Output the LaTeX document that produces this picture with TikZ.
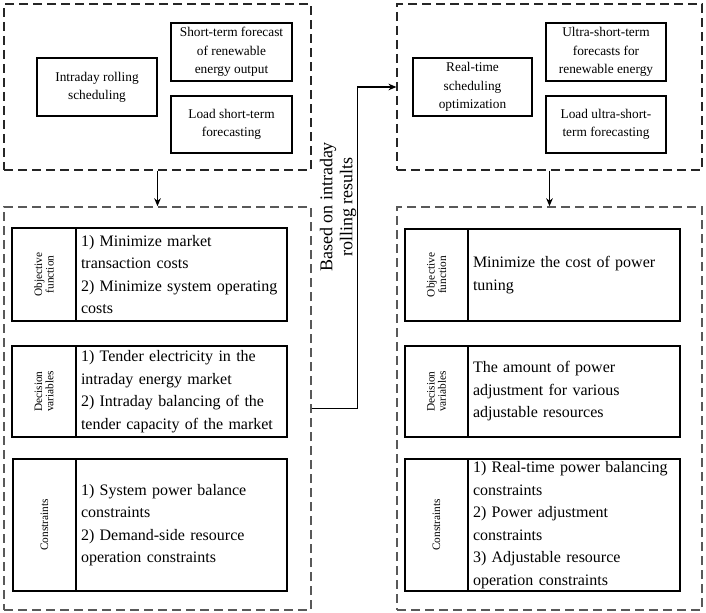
\documentclass[tikz,border=0pt]{standalone}
\usepackage{fontspec}
\setmainfont{Liberation Serif}
\usetikzlibrary{fit,arrows.meta}
\begin{document}
\begin{tikzpicture}[x=0.75pt,y=-0.75pt,
 dbox/.style={draw=black!85, line width=0.9pt, dash pattern=on 6.75pt off 3.75pt, inner sep=0pt},
 dboxg/.style={draw=black!65, line width=1.2pt, dash pattern=on 6.75pt off 3.75pt, inner sep=0pt},
 cell/.style={draw, line width=0.8pt, inner sep=0pt},
 stxt/.style={inner sep=0pt, align=center, font=\fontsize{10}{13.7}\selectfont},
 labtxt/.style={inner sep=0pt, font=\fontsize{8.5}{8.5}\selectfont, align=center},
 txtL/.style={inner sep=0pt, font=\fontsize{12}{16.9}\selectfont, align=left, text width=150.75pt},
 txtR/.style={inner sep=0pt, font=\fontsize{12}{16.9}\selectfont, align=left, text width=151.5pt},
 arr/.style={line width=0.8pt, -{Stealth[length=6pt,width=5pt]}}]
\useasboundingbox (0,0) rectangle (706,613);

% top left
\node[dbox, fit={(4,4) (311,170)}] (TL) {};
\node[cell, fit={(37,58) (157,116)}] (irs) {};
\node[stxt] (irst) at (irs.center) {Intraday rolling\\scheduling};
\node[cell, fit={(171,23) (292,81)}] (stf) {};
\node[stxt] (stft) at (stf.center) {Short-term forecast\\of renewable\\energy output};
\node[cell, fit={(171,96) (292,153)}] (lstf) {};
\node[stxt] (lstft) at (lstf.center) {Load short-term\\forecasting};

% top right
\node[dbox, fit={(397,4) (702,170)}] (TR) {};
\node[cell, fit={(413,58) (532,116)}] (rts) {};
\node[stxt] (rtst) at (rts.center) {Real-time\\scheduling\\optimization};
\node[cell, fit={(546,23) (666,81)}] (ustf) {};
\node[stxt] (ustft) at (ustf.center) {Ultra-short-term\\forecasts for\\renewable energy};
\node[cell, fit={(546,96) (666,153)}] (lustf) {};
\node[stxt] (lustft) at (lustf.center) {Load ultra-short-\\term forecasting};

% bottom left
\node[dboxg, fit={(4,207) (311,610)}] (BL) {};
\node[cell, fit={(12,228) (76,321)}] (lo) {};
\node[labtxt, rotate=90] (lot) at (lo.center) {Objective\\function};
\node[cell, fit={(76,228) (287,321)}] (lo2) {};
\node[txtL] (lot2) at (lo2.center) {1) Minimize market\\transaction costs\\2) Minimize system operating\\costs};
\node[cell, fit={(12,346) (76,437)}] (ld) {};
\node[labtxt, rotate=90] (ldt) at (ld.center) {Decision\\variables};
\node[cell, fit={(76,346) (287,437)}] (ld2) {};
\node[txtL] (ldt2) at (ld2.center) {1) Tender electricity in the\\intraday energy market\\2) Intraday balancing of the\\tender capacity of the market};
\node[cell, fit={(13,459) (76,591)}] (lc) {};
\node[labtxt, rotate=90] (lct) at (lc.center) {Constraints};
\node[cell, fit={(76,459) (287,591)}] (lc2) {};
\node[txtL] (lct2) at (lc2.center) {1) System power balance\\constraints\\2) Demand-side resource\\operation constraints};

% bottom right
\node[dboxg, fit={(397,207) (702,610)}] (BR) {};
\node[cell, fit={(405,229) (468,321)}] (ro) {};
\node[labtxt, rotate=90] (rot) at (ro.center) {Objective\\function};
\node[cell, fit={(468,229) (680,321)}] (ro2) {};
\node[txtR] (rot2) at (ro2.center) {Minimize the cost of power\\tuning};
\node[cell, fit={(405,346) (468,437)}] (rd) {};
\node[labtxt, rotate=90] (rdt) at (rd.center) {Decision\\variables};
\node[cell, fit={(468,346) (680,437)}] (rd2) {};
\node[txtR] (rdt2) at (rd2.center) {The amount of power\\adjustment for various\\adjustable resources};
\node[cell, fit={(405,459) (468,591)}] (rc) {};
\node[labtxt, rotate=90] (rct) at (rc.center) {Constraints};
\node[cell, fit={(468,459) (680,591)}] (rc2) {};
\node[txtR] (rct2) at (rc2.center) {1) Real-time power balancing\\constraints\\2) Power adjustment\\constraints\\3) Adjustable resource\\operation constraints};

% connectors
\draw[arr] (TL.south) -- (BL.north);
\draw[arr] (TR.south) -- (BR.north);
\draw[arr] (BL.east) -- ++(46,0) |- (TR.west);
\node[rotate=90, align=center, font=\fontsize{13.5}{15}\selectfont, inner sep=0pt] (based) at (338,207) {Based on intraday\\rolling results};
\end{tikzpicture}
\end{document}
